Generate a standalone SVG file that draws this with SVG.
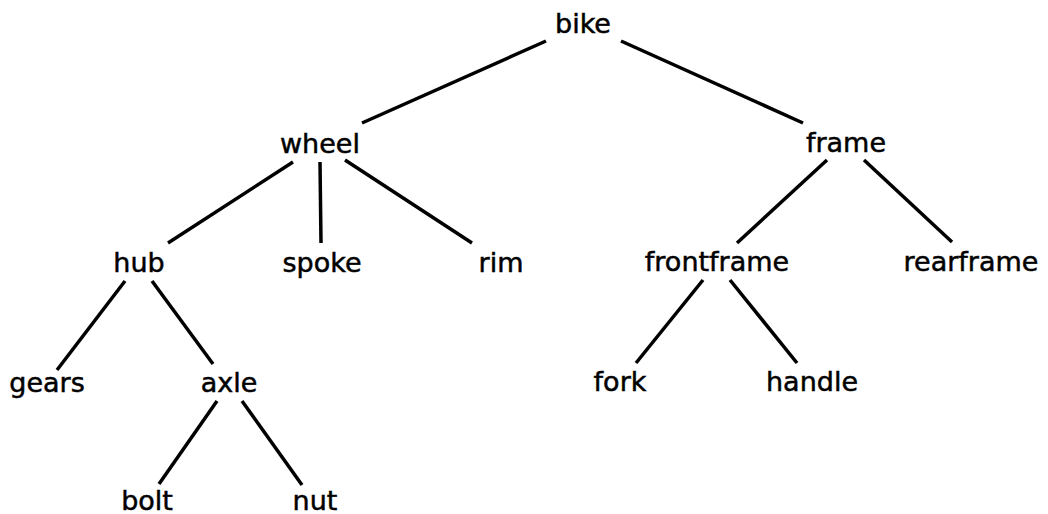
<svg xmlns="http://www.w3.org/2000/svg" width="1048" height="514" viewBox="0 0 1048 514">
<style>
text{font-family:"DejaVu Sans",sans-serif;font-size:27px;fill:#000;stroke:#000;stroke-width:0.5;text-anchor:middle}
line{stroke:#000;stroke-width:3.5;stroke-linecap:butt}
</style>
<rect width="1048" height="514" fill="#fff"/>
<g id="connectors">
<line x1="546" y1="41" x2="362" y2="123"/>
<line x1="621" y1="41" x2="803" y2="123"/>
<line x1="293" y1="162" x2="168" y2="243"/>
<line x1="320" y1="162" x2="321" y2="243"/>
<line x1="345" y1="160" x2="472" y2="243"/>
<line x1="827" y1="160" x2="737" y2="243"/>
<line x1="864" y1="160" x2="952" y2="242"/>
<line x1="125" y1="281" x2="57" y2="370"/>
<line x1="152" y1="281" x2="213" y2="364"/>
<line x1="217" y1="401" x2="159" y2="484"/>
<line x1="242" y1="401" x2="302" y2="485"/>
<line x1="703" y1="280" x2="636" y2="363"/>
<line x1="730" y1="280" x2="797" y2="363"/>
</g>
<g id="bike"><text x="583" y="33">bike</text></g>
<g id="wheel"><text x="320" y="153">wheel</text></g>
<g id="frame"><text x="846" y="152">frame</text></g>
<g id="hub"><text x="139" y="272">hub</text></g>
<g id="spoke"><text x="322" y="272">spoke</text></g>
<g id="rim"><text x="501" y="272">rim</text></g>
<g id="frontframe"><text x="717" y="271">frontframe</text></g>
<g id="rearframe"><text x="971" y="271">rearframe</text></g>
<g id="gears"><text x="47" y="392">gears</text></g>
<g id="axle"><text x="229" y="392">axle</text></g>
<g id="fork"><text x="620" y="391">fork</text></g>
<g id="handle"><text x="812" y="391">handle</text></g>
<g id="bolt"><text x="147" y="510">bolt</text></g>
<g id="nut"><text x="315" y="510">nut</text></g>
</svg>
